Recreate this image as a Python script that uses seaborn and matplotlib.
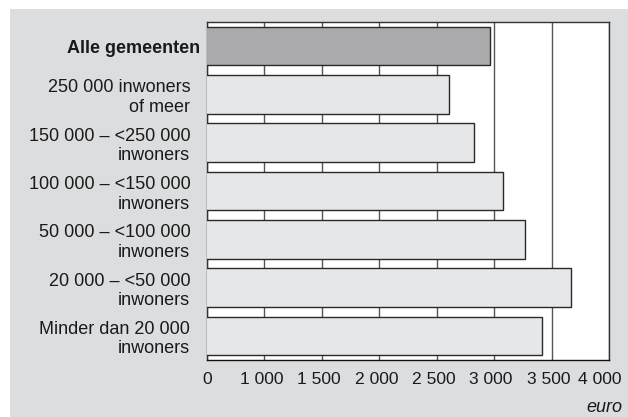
import matplotlib
matplotlib.use("Agg")
import matplotlib.pyplot as plt
import matplotlib.transforms as mtransforms
from matplotlib.patches import Rectangle
import seaborn as sns
import pandas as pd

categories = [
    "Alle gemeenten",
    "250 000 inwoners\nof meer",
    "150 000 – <250 000\ninwoners",
    "100 000 – <150 000\ninwoners",
    "50 000 – <100 000\ninwoners",
    "20 000 – <50 000\ninwoners",
    "Minder dan 20 000\ninwoners",
]
values = [2960, 2610, 2825, 3075, 3265, 3670, 3420]
bar_colors = ["#a9aaad", "#e6e7e9", "#e6e7e9", "#e6e7e9", "#e6e7e9", "#e6e7e9", "#e6e7e9"]
# broken axis: leftmost position (500) shown as "0"
tick_positions = [500, 1000, 1500, 2000, 2500, 3000, 3500, 4000]
tick_labels = ["0", "1 000", "1 500", "2 000", "2 500", "3 000", "3 500", "4 000"]

df = pd.DataFrame({"cat": categories, "val": values})

sns.set_style("white")
plt.rcParams["font.family"] = ["Liberation Sans", "DejaVu Sans"]
plt.rcParams["font.size"] = 13

fig = plt.figure(figsize=(6.28, 4.17), dpi=100, facecolor="white")
fig.patches.append(Rectangle((10 / 628, 0), 1 - 10 / 628, 1 - 9 / 417,
                             transform=fig.transFigure, facecolor="#dcdddf",
                             edgecolor="none", zorder=-10))
ax = fig.add_axes([207 / 628, 1 - 360 / 417, (609 - 207) / 628, (360 - 22) / 417])
ax.set_facecolor("white")

sns.barplot(data=df, x="val", y="cat", hue="cat", palette=bar_colors,
            orient="h", width=0.8, edgecolor="#2a2a2a", linewidth=1.0,
            legend=False, ax=ax, zorder=3)

ax.set_xlim(500, 4000)
ax.set_ylim(6.5, -0.5)
ax.set_xticks(tick_positions)
ax.set_xticklabels(tick_labels)
ax.set_xlabel("")
ax.set_ylabel("")
ax.set_axisbelow(True)
ax.grid(axis="x", color="#555555", linewidth=1.0, zorder=0)
ax.grid(axis="y", visible=False)
ax.tick_params(axis="both", length=0)
ax.tick_params(axis="x", pad=9, labelsize=12.6, colors="#1a1a1a")
ax.tick_params(axis="y", pad=12, labelsize=13, colors="#1a1a1a")
for lab in ax.get_yticklabels():
    lab.set_linespacing(1.2)
first = ax.get_yticklabels()[0]
first.set_fontweight("bold")
first.set_transform(first.get_transform() +
                    mtransforms.ScaledTranslation(10 / 100, 0, fig.dpi_scale_trans))
xlabs = ax.get_xticklabels()
for i, lab in enumerate(xlabs):
    shift = -3 if i > 0 else 0
    if i == len(xlabs) - 1:
        shift = -9
    lab.set_transform(lab.get_transform() +
                      mtransforms.ScaledTranslation(shift / 100, 0, fig.dpi_scale_trans))
for s in ax.spines.values():
    s.set_visible(True)
    s.set_color("#333333")
    s.set_linewidth(1.0)
ax.spines["bottom"].set_color("#111111")

fig.text(622 / 628, 1 - 408 / 417, "euro", ha="right", va="center",
         fontsize=13, style="italic", color="#1a1a1a")

fig.savefig("out.png", dpi=100, facecolor=fig.get_facecolor())
